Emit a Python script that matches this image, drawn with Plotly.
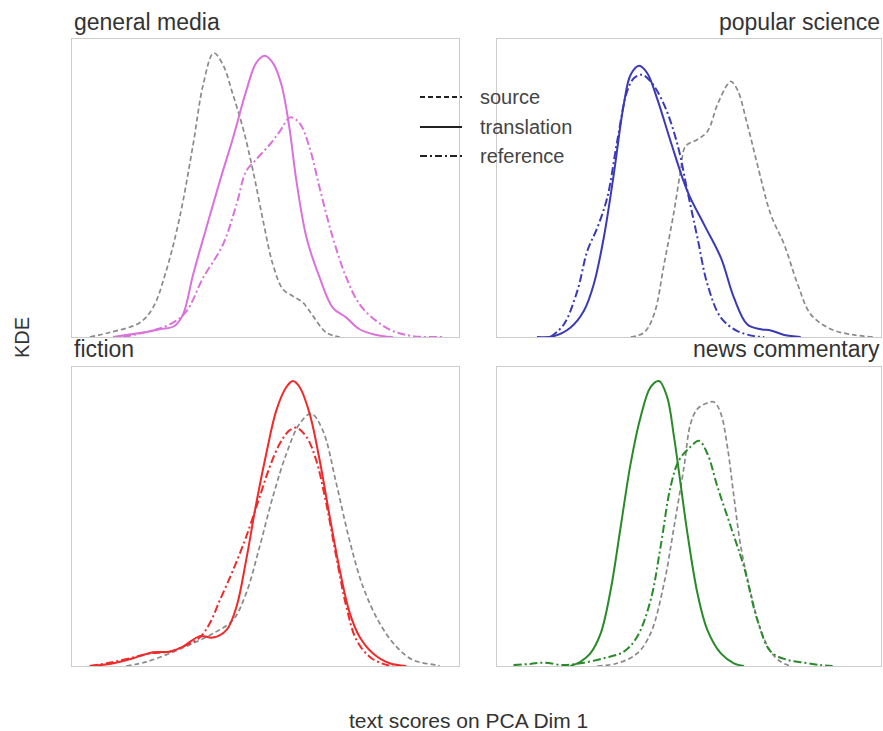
import plotly.graph_objects as go

W, H = 883, 731

# ---------------- data (x: PCA Dim 1 score units, y: density) ----------------
gm_src_x = [0.46, 0.97, 1.75, 2.09, 2.43, 2.78, 3.13, 3.39, 3.66, 3.90, 4.16, 4.42, 4.68, 4.94, 5.19, 5.45, 5.71, 5.97, 6.23, 6.57, 6.92]
gm_src_y = [0.0, 0.015, 0.048, 0.098, 0.22, 0.40, 0.646, 0.847, 0.953, 0.914, 0.813, 0.70, 0.556, 0.389, 0.244, 0.16, 0.137, 0.115, 0.07, 0.015, 0.0]
gm_trn_x = [1.06, 1.83, 2.27, 2.65, 2.87, 3.13, 3.47, 3.82, 4.16, 4.50, 4.76, 4.98, 5.19, 5.41, 5.62, 5.80, 6.06, 6.40, 6.74, 7.09, 7.43, 7.86, 8.29]
gm_trn_y = [0.0, 0.015, 0.026, 0.037, 0.076, 0.21, 0.366, 0.523, 0.668, 0.825, 0.92, 0.944, 0.92, 0.847, 0.70, 0.523, 0.333, 0.199, 0.098, 0.065, 0.026, 0.007, 0.0]
gm_ref_x = [1.32, 2.09, 2.61, 2.96, 3.39, 3.90, 4.25, 4.50, 4.76, 5.11, 5.37, 5.64, 5.88, 6.14, 6.40, 6.74, 7.09, 7.43, 7.86, 8.29, 8.81, 9.59]
gm_ref_y = [0.0, 0.022, 0.048, 0.087, 0.199, 0.31, 0.445, 0.556, 0.596, 0.646, 0.69, 0.737, 0.718, 0.635, 0.50, 0.333, 0.199, 0.11, 0.054, 0.02, 0.003, 0.0]

ps_src_x = [3.48, 3.83, 4.09, 4.35, 4.61, 4.78, 4.91, 5.22, 5.48, 5.74, 6.00, 6.09, 6.26, 6.52, 6.78, 7.13, 7.48, 7.83, 8.17, 8.70, 9.30, 9.83]
ps_src_y = [0.0, 0.015, 0.076, 0.244, 0.422, 0.556, 0.64, 0.663, 0.69, 0.78, 0.847, 0.858, 0.83, 0.713, 0.579, 0.411, 0.31, 0.177, 0.076, 0.026, 0.007, 0.0]
ps_trn_x = [1.04, 1.48, 1.91, 2.26, 2.52, 2.78, 3.04, 3.30, 3.48, 3.70, 3.91, 4.17, 4.52, 4.96, 5.39, 5.83, 6.17, 6.52, 6.87, 7.13, 7.48, 7.91]
ps_trn_y = [0.0, 0.003, 0.031, 0.087, 0.177, 0.333, 0.545, 0.78, 0.88, 0.91, 0.886, 0.80, 0.657, 0.489, 0.378, 0.266, 0.132, 0.042, 0.026, 0.022, 0.007, 0.0]
ps_ref_x = [1.39, 1.74, 2.09, 2.35, 2.61, 2.87, 3.13, 3.39, 3.57, 3.78, 4.00, 4.35, 4.70, 4.96, 5.22, 5.48, 5.83, 6.26, 6.70, 6.96]
ps_ref_y = [0.0, 0.042, 0.154, 0.288, 0.366, 0.467, 0.657, 0.825, 0.869, 0.88, 0.858, 0.78, 0.646, 0.489, 0.333, 0.177, 0.065, 0.02, 0.003, 0.0]

fi_src_x = [1.40, 1.92, 2.52, 3.13, 3.65, 4.16, 4.50, 4.85, 5.19, 5.54, 5.88, 6.18, 6.48, 6.83, 7.17, 7.52, 7.95, 8.38, 8.81, 9.41, 9.50]
fi_src_y = [0.0, 0.014, 0.042, 0.076, 0.109, 0.154, 0.243, 0.40, 0.566, 0.71, 0.81, 0.844, 0.788, 0.61, 0.421, 0.265, 0.143, 0.065, 0.02, 0.003, 0.0]
fi_trn_x = [0.46, 0.97, 1.58, 2.09, 2.52, 2.87, 3.30, 3.64, 3.99, 4.25, 4.50, 4.76, 5.02, 5.28, 5.54, 5.71, 5.88, 6.14, 6.40, 6.66, 6.92, 7.18, 7.43, 7.78, 8.21, 8.64]
fi_trn_y = [0.0, 0.007, 0.026, 0.046, 0.048, 0.065, 0.10, 0.095, 0.12, 0.198, 0.354, 0.543, 0.71, 0.855, 0.933, 0.953, 0.933, 0.844, 0.688, 0.499, 0.32, 0.176, 0.098, 0.042, 0.009, 0.0]
fi_ref_x = [0.46, 0.97, 1.49, 2.01, 2.52, 2.95, 3.30, 3.56, 3.82, 4.16, 4.50, 4.85, 5.11, 5.37, 5.62, 5.80, 6.06, 6.31, 6.57, 6.83, 7.09, 7.35, 7.69, 8.04, 8.29]
fi_ref_y = [0.0, 0.011, 0.026, 0.042, 0.048, 0.07, 0.095, 0.143, 0.22, 0.32, 0.432, 0.566, 0.666, 0.744, 0.788, 0.797, 0.766, 0.688, 0.543, 0.365, 0.198, 0.087, 0.031, 0.007, 0.0]

nc_src_x = [2.61, 3.13, 3.65, 4.00, 4.35, 4.61, 4.87, 5.04, 5.22, 5.43, 5.65, 5.83, 6.00, 6.17, 6.35, 6.61, 6.87, 7.13, 7.39, 7.65]
nc_src_y = [0.0, 0.009, 0.042, 0.109, 0.276, 0.465, 0.666, 0.81, 0.86, 0.877, 0.883, 0.844, 0.733, 0.566, 0.399, 0.243, 0.12, 0.048, 0.014, 0.0]
nc_trn_x = [1.91, 2.17, 2.43, 2.70, 2.96, 3.22, 3.48, 3.74, 4.00, 4.22, 4.43, 4.61, 4.78, 4.96, 5.22, 5.48, 5.83, 6.17, 6.43]
nc_trn_y = [0.0, 0.014, 0.042, 0.109, 0.254, 0.465, 0.677, 0.833, 0.933, 0.953, 0.90, 0.766, 0.61, 0.443, 0.243, 0.12, 0.042, 0.009, 0.0]
nc_ref_x = [0.43, 0.87, 1.22, 1.74, 2.17, 2.78, 3.30, 3.65, 4.00, 4.26, 4.52, 4.74, 5.04, 5.26, 5.48, 5.74, 6.09, 6.43, 6.78, 7.13, 7.57, 8.00, 8.43, 8.74]
nc_ref_y = [0.003, 0.007, 0.011, 0.003, 0.009, 0.026, 0.048, 0.098, 0.22, 0.399, 0.60, 0.688, 0.733, 0.753, 0.71, 0.60, 0.465, 0.332, 0.154, 0.048, 0.02, 0.011, 0.003, 0.0]

panel_titles = ["general media", "popular science", "fiction", "news commentary"]
legend_labels = ["source", "translation", "reference"]
x_label = "text scores on PCA Dim 1"
y_label = "KDE"

# ---------------- styling ----------------
FONT = "Liberation Sans, Arial, Helvetica, sans-serif"
TXT = "#333333"
GRAY = "#8a8a8a"
DASH = "5px,3px"
DASHDOT = "8px,3px,2px,3px"

panels = [
    dict(color="#da72da", src=(gm_src_x, gm_src_y), trn=(gm_trn_x, gm_trn_y), ref=(gm_ref_x, gm_ref_y)),
    dict(color="#3a3ab8", src=(ps_src_x, ps_src_y), trn=(ps_trn_x, ps_trn_y), ref=(ps_ref_x, ps_ref_y)),
    dict(color="#ee2a2a", src=(fi_src_x, fi_src_y), trn=(fi_trn_x, fi_trn_y), ref=(fi_ref_x, fi_ref_y)),
    dict(color="#2a8a2a", src=(nc_src_x, nc_src_y), trn=(nc_trn_x, nc_trn_y), ref=(nc_ref_x, nc_ref_y)),
]

def px(x):
    return x / W

def py(y):
    return 1 - y / H

xdom = [[px(72), px(459)], [px(497), px(881)]]
ydom = [[py(337), py(39)], [py(666), py(367)]]

fig = go.Figure()
layout = dict(
    width=W, height=H, margin=dict(l=0, r=0, t=0, b=0),
    paper_bgcolor="white", plot_bgcolor="white", showlegend=False,
)

for i, p in enumerate(panels):
    n = i + 1
    xa = "x" if n == 1 else f"x{n}"
    ya = "y" if n == 1 else f"y{n}"
    col = p["color"]
    fig.add_trace(go.Scatter(x=p["src"][0], y=p["src"][1], mode="lines", xaxis=xa, yaxis=ya,
                             line=dict(color=GRAY, width=1.7, dash=DASH, shape="spline", smoothing=1.0)))
    fig.add_trace(go.Scatter(x=p["ref"][0], y=p["ref"][1], mode="lines", xaxis=xa, yaxis=ya,
                             line=dict(color=col, width=2, dash=DASHDOT, shape="spline", smoothing=1.0)))
    fig.add_trace(go.Scatter(x=p["trn"][0], y=p["trn"][1], mode="lines", xaxis=xa, yaxis=ya,
                             line=dict(color=col, width=2, shape="spline", smoothing=1.0)))
    ax = dict(domain=xdom[i % 2], range=[0, 10], showgrid=False, zeroline=False, showticklabels=False,
              ticks="", showline=True, mirror=True, linecolor="#cccccc", linewidth=1, anchor=ya)
    ay = dict(domain=ydom[i // 2], range=[0, 1.0], showgrid=False, zeroline=False, showticklabels=False,
              ticks="", showline=True, mirror=True, linecolor="#cccccc", linewidth=1, anchor=xa)
    layout["xaxis" if n == 1 else f"xaxis{n}"] = ax
    layout["yaxis" if n == 1 else f"yaxis{n}"] = ay

annotations = []
# panel titles
title_pos = [(72, 22, "left"), (882, 22, "right"), (72, 349, "left"), (882, 349, "right")]
for t, (x, y, anc) in zip(panel_titles, title_pos):
    annotations.append(dict(text=t, x=px(x), y=py(y), xref="paper", yref="paper", xanchor=anc,
                            yanchor="middle", showarrow=False, font=dict(family=FONT, size=23, color=TXT)))
# axis labels
annotations.append(dict(text=x_label, x=px(469), y=py(720), xref="paper", yref="paper", xanchor="center",
                        yanchor="middle", showarrow=False, font=dict(family=FONT, size=21, color=TXT)))
annotations.append(dict(text=y_label, x=px(22), y=py(338), xref="paper", yref="paper", xanchor="center",
                        yanchor="middle", showarrow=False, textangle=-90, font=dict(family=FONT, size=20, color=TXT)))

# legend (drawn manually)
shapes = []
leg_rows = [97, 127, 156]
leg_dash = [DASH, "solid", "7px,3px,2px,3px"]
for lab, yy, dsh in zip(legend_labels, leg_rows, leg_dash):
    shapes.append(dict(type="line", xref="paper", yref="paper", x0=px(420), x1=px(462), y0=py(yy), y1=py(yy),
                       line=dict(color="#222222", width=1.8, dash=dsh)))
    annotations.append(dict(text=lab, x=px(478), y=py(yy), xref="paper", yref="paper", xanchor="left",
                            yanchor="middle", showarrow=False, font=dict(family=FONT, size=20, color="#444444")))

layout["annotations"] = annotations
layout["shapes"] = shapes
fig.update_layout(**layout)
fig.write_html("out.html", config={"displayModeBar": False, "staticPlot": True})

# remove the default page margin so the figure fills the window exactly
with open("out.html", "r", encoding="utf-8") as f:
    html = f.read()
html = html.replace("<head>", "<head><style>html,body{margin:0;padding:0;overflow:hidden;}</style>", 1)
with open("out.html", "w", encoding="utf-8") as f:
    f.write(html)
